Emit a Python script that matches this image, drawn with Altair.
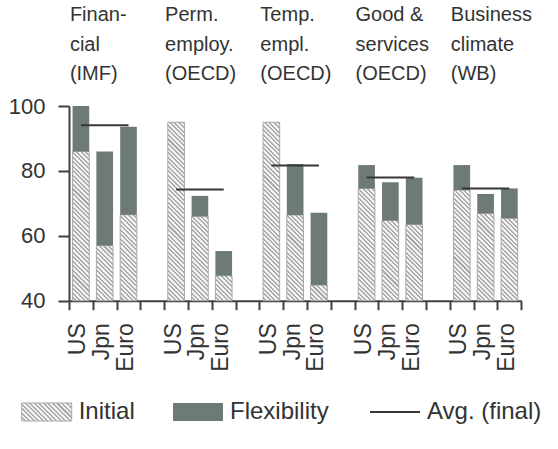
import math

import altair as alt
import pandas as pd

# ---- data ---------------------------------------------------------------
countries = ["US", "Jpn", "Euro"]
group_headers = [
    "Finan-\ncial\n(IMF)",
    "Perm.\n\u00a0employ.\n\u00a0(OECD)",
    "Temp.\n\u00a0empl.\n\u00a0(OECD)",
    "Good &\nservices\n(OECD)",
    "Business\nclimate\n(WB)",
]
initial_scores = [
    [86, 57, 66.5],
    [95, 66, 47.7],
    [95, 66.4, 44.8],
    [74.6, 64.7, 63.5],
    [74.1, 66.9, 65.4],
]
final_scores = [
    [100, 86, 93.6],
    [95, 72.3, 55.3],
    [95, 82.1, 67.1],
    [81.8, 76.5, 77.9],
    [81.8, 72.9, 74.6],
]
avg_final = [94.1, 74.3, 81.7, 78.0, 74.6]
legend_keys = ["Initial", "Flexibility", "Avg. (final)"]
y_ticks = [40, 60, 80, 100]
y_range = [40, 100]

# ---- layout / style -----------------------------------------------------
TOTAL_W, TOTAL_H = 558, 449
PLOT_LEFT, PLOT_TOP = 69, 106
PLOT_W, PLOT_H = 452.3, 194.7
FONT = "Liberation Sans"
TEXT = "#333333"
AXIS = "#404040"
DARK = "#6e7a76"
OUTLINE = "#a8a8a8"
AVG_LINE = "#383838"
HATCH_BG = "#f4f4f4"
HATCH_FG = "#ababab"
BAR_BAND = 0.7

# category slots: three countries per group, an empty slot between groups
slots = []
for g in range(len(group_headers)):
    slots += [f"{c}|{g}" for c in countries]
    if g < len(group_headers) - 1:
        slots.append(f"|{g}")

STEP = PLOT_W / len(slots)
BAR_W = BAR_BAND * STEP
PX_PER_UNIT = PLOT_H / (y_range[1] - y_range[0])

# diagonal hatching built from a hard-stop linear gradient
HATCH_N = 50          # stripes per gradient
HATCH_P = 3.2         # stripe period (px, perpendicular)
HATCH_BG_SHARE = 0.55
stops = []
for k in range(HATCH_N):
    a, b, c = k / HATCH_N, (k + HATCH_BG_SHARE) / HATCH_N, (k + 1) / HATCH_N
    stops += [(a, HATCH_BG), (b, HATCH_BG), (b, HATCH_FG), (c, HATCH_FG)]
STOPS_JS = "[" + ",".join(f"{{offset:{o:.5f},color:'{col}'}}" for o, col in stops) + "]"
SPAN = math.sqrt(2) * HATCH_N * HATCH_P


def gradient_js(x2, y2):
    return f"{{gradient:'linear',x1:0,y1:1,x2:{x2},y2:{y2},stops:{STOPS_JS}}}"


# legend swatch geometry (px, relative to the plot origin)
LEG_W, LEG_H = 50, 18
LEG_Y = 306
LEG_SWATCH_X = [-47.3, 104, 301]
LEG_LABEL_GAP = 7
_k = SPAN / (LEG_W ** 2 + LEG_H ** 2)
legend_hatch = alt.LinearGradient(
    gradient="linear", x1=0, y1=1, x2=_k * LEG_W, y2=1 - _k * LEG_H,
    stops=[alt.GradientStop(offset=o, color=col) for o, col in stops],
)

# ---- tables -------------------------------------------------------------
bar_rows = []
for g in range(len(group_headers)):
    for i, c in enumerate(countries):
        bar_rows.append({"slot": f"{c}|{g}", "initial": initial_scores[g][i],
                         "final": final_scores[g][i]})
bars = pd.DataFrame(bar_rows)

avg_df = pd.DataFrame({
    "start": [f"{countries[0]}|{g}" for g in range(len(group_headers))],
    "end": [f"{countries[-1]}|{g}" for g in range(len(group_headers))],
    "avg": avg_final,
})
head_df = pd.DataFrame({
    "slot": [f"{countries[0]}|{g}" for g in range(len(group_headers))],
    "label": group_headers,
})
legend_df = pd.DataFrame({"key": legend_keys})

# ---- scales & axes ------------------------------------------------------
x_scale = alt.Scale(domain=slots, paddingInner=0, paddingOuter=0)
y_scale = alt.Scale(domain=y_range, zero=False, nice=False)
x_axis = alt.Axis(
    title=None,
    labelExpr="isString(datum.value) ? split(datum.value, '|')[0] : ''",
    labelAngle=-90, labelFont=FONT, labelFontSize=23, labelColor=TEXT,
    labelPadding=13, labelOffset=-3,
    ticks=True, tickBand="extent", tickSize=9, tickWidth=2, tickColor=AXIS,
    domainColor=AXIS, domainWidth=2, grid=False,
)
y_axis = alt.Axis(
    title=None, values=y_ticks, labelFont=FONT, labelFontSize=22,
    labelColor=TEXT, labelPadding=13, ticks=True, tickSize=11, tickWidth=2,
    tickColor=AXIS, domainColor=AXIS, domainWidth=2, grid=False,
)

# ---- layers -------------------------------------------------------------
initial_layer = (
    alt.Chart(bars)
    .transform_calculate(hpx=f"(datum.initial - {y_range[0]}) * {PX_PER_UNIT}")
    .transform_calculate(hk=f"{SPAN} / ({BAR_W * BAR_W} + datum.hpx * datum.hpx)")
    .transform_calculate(grad=gradient_js(f"datum.hk * {BAR_W}", "1 - datum.hk * datum.hpx"))
    .mark_bar(width=alt.RelativeBandSize(BAR_BAND), stroke=OUTLINE, strokeWidth=1)
    .encode(
        x=alt.X("slot:N", scale=x_scale, axis=x_axis, title=None),
        y=alt.Y("initial:Q", scale=y_scale, axis=y_axis, title=None),
        y2=alt.Y2(datum=y_range[0]),
        fill=alt.Fill("grad:N", scale=None),
    )
)

flex_layer = (
    alt.Chart(bars)
    .mark_bar(width=alt.RelativeBandSize(BAR_BAND), color=DARK)
    .encode(
        x=alt.X("slot:N", scale=x_scale, axis=x_axis, title=None),
        y=alt.Y("final:Q", scale=y_scale, axis=y_axis, title=None),
        y2="initial:Q",
    )
)

avg_layer = (
    alt.Chart(avg_df)
    .mark_rule(color=AVG_LINE, strokeWidth=2)
    .encode(
        x=alt.X("start:N", scale=x_scale, axis=x_axis, title=None),
        x2="end:N",
        y=alt.Y("avg:Q", scale=y_scale, axis=y_axis, title=None),
    )
)

header_layer = (
    alt.Chart(head_df)
    .mark_text(align="left", baseline="top", dx=-11, lineBreak="\n",
               lineHeight=29.7, font=FONT, fontSize=20, color=TEXT)
    .encode(
        x=alt.X("slot:N", scale=x_scale, axis=x_axis, title=None),
        y=alt.value(-101),
        text="label:N",
    )
)


# ---- legend row below the axis ------------------------------------------
def legend_entry(i):
    key = legend_keys[i]
    x0 = LEG_SWATCH_X[i]
    base = alt.Chart(legend_df).transform_filter(f"datum.key == '{key}'")
    if i == 2:
        swatch = base.mark_rule(color=AVG_LINE, strokeWidth=2).encode(
            x=alt.value(x0), x2=alt.value(x0 + LEG_W), y=alt.value(LEG_Y))
    elif i == 0:
        swatch = base.mark_rect(fill=legend_hatch, stroke=OUTLINE, strokeWidth=1).encode(
            x=alt.value(x0), x2=alt.value(x0 + LEG_W),
            y=alt.value(LEG_Y - LEG_H / 2), y2=alt.value(LEG_Y + LEG_H / 2))
    else:
        swatch = base.mark_rect(color=DARK).encode(
            x=alt.value(x0), x2=alt.value(x0 + LEG_W),
            y=alt.value(LEG_Y - LEG_H / 2), y2=alt.value(LEG_Y + LEG_H / 2))
    label = base.mark_text(align="left", baseline="middle", font=FONT,
                           fontSize=24, color=TEXT).encode(
        x=alt.value(x0 + LEG_W + LEG_LABEL_GAP), y=alt.value(LEG_Y), text="key:N")
    return [swatch, label]


legend_layers = []
for i in range(len(legend_keys)):
    legend_layers += legend_entry(i)

chart = (
    alt.layer(initial_layer, flex_layer, avg_layer, header_layer, *legend_layers)
    .properties(
        width=PLOT_W,
        height=PLOT_H,
        autosize=alt.AutoSizeParams(type="none"),
        padding={"left": PLOT_LEFT, "top": PLOT_TOP,
                 "right": TOTAL_W - PLOT_LEFT - PLOT_W,
                 "bottom": TOTAL_H - PLOT_TOP - PLOT_H},
        background="white",
    )
    .configure_view(stroke=None)
)

chart.save("out.html", embed_options={"renderer": "svg", "actions": False})
